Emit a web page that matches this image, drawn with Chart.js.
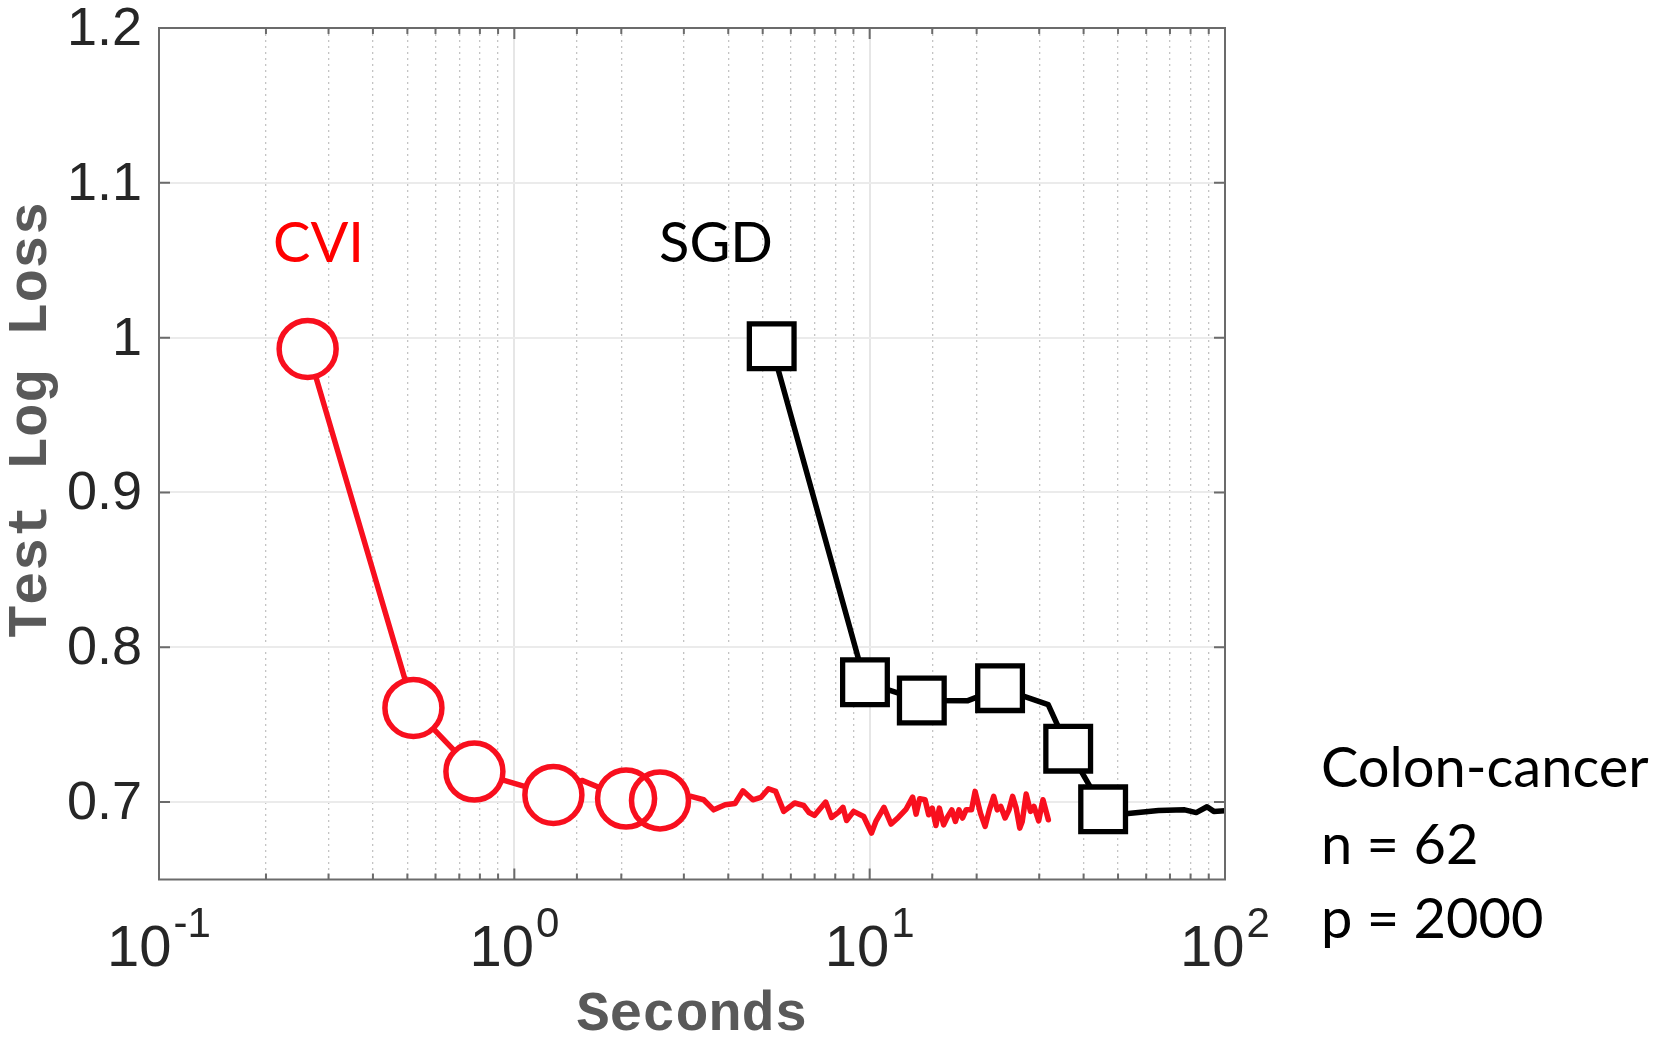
<!DOCTYPE html>
<html lang="en">
<head>
<meta charset="UTF-8">
<title>Colon-cancer: Test Log Loss vs Seconds</title>
<script src="https://cdn.jsdelivr.net/npm/chart.js"></script>
<style>
  html, body { margin: 0; padding: 0; background: #fff; }
  #wrap { position: relative; width: 1676px; height: 1041px; }
</style>
</head>
<body>
<div id="wrap"><canvas id="lossChart" width="1676" height="1041"></canvas></div>
<script>
// CVI: circle markers and the full curve (seconds / test log loss)
const cviMarkSec  = [0.262, 0.52, 0.772, 1.288, 2.063, 2.57];
const cviMarkLoss = [0.9927, 0.7608, 0.7197, 0.7046, 0.7023, 0.7011];
const cviSec = [0.262, 0.52, 0.772, 1.288, 1.55, 2.063, 2.57,
  3.145, 3.41, 3.64, 3.92, 4.18, 4.40, 4.69, 4.94, 5.19, 5.44, 5.73, 6.15, 6.52, 6.75, 6.99,
  7.52, 7.81, 8.18, 8.41, 8.61, 9.01, 9.62, 10.12, 10.43, 10.97, 11.49, 12.04, 12.67, 13.21,
  13.51, 13.83, 14.32, 14.66, 15.00, 15.36, 15.71, 16.15, 16.53, 17.03, 17.43, 17.84, 18.26,
  18.68, 19.35, 19.80, 20.50, 21.13, 21.72, 22.34, 22.86, 23.39, 24.05, 24.67, 25.25, 25.84,
  26.45, 26.88, 27.57, 28.35, 29.00, 29.90, 30.74, 31.83];
const cviLoss = [0.9927, 0.7608, 0.7197, 0.7046, 0.714, 0.7023, 0.7011,
  0.7037, 0.7015, 0.6950, 0.6983, 0.6991, 0.7073, 0.7015, 0.7030, 0.7086, 0.7069, 0.6940, 0.6994, 0.6978, 0.6933, 0.6914,
  0.7000, 0.6901, 0.6935, 0.6966, 0.6881, 0.6940, 0.6907, 0.6800, 0.6879, 0.6966, 0.6858, 0.6901, 0.6955, 0.7032,
  0.6922, 0.7022, 0.7015, 0.6918, 0.6961, 0.6849, 0.6961, 0.6853, 0.6901, 0.6950, 0.6875, 0.6950, 0.6897,
  0.6950, 0.6950, 0.7069, 0.6929, 0.6843, 0.6950, 0.7037, 0.6950, 0.6972, 0.6897, 0.6950, 0.7037, 0.6961,
  0.6832, 0.6875, 0.7052, 0.6940, 0.6972, 0.6879, 0.7015, 0.6886];

// SGD: square markers and the full curve
const sgdMarkSec  = [5.30, 9.70, 14.02, 23.28, 36.2, 45.4];
const sgdMarkLoss = [0.9944, 0.7774, 0.7656, 0.7736, 0.7345, 0.6953];
const sgdSec  = [5.30, 9.70, 14.02, 18.9, 23.28, 31.8, 36.2, 45.4, 50, 65, 77, 83, 89, 93, 100];
const sgdLoss = [0.9944, 0.7774, 0.7656, 0.7655, 0.7736, 0.763, 0.7345, 0.6953, 0.692, 0.6945, 0.695, 0.6932, 0.697, 0.694, 0.6944];

// axis ticks
const yTickValues = [0.7, 0.8, 0.9, 1.0, 1.1, 1.2];
const yTickLabels = ['0.7', '0.8', '0.9', '1', '1.1', '1.2'];
const xTickValues = [0.1, 1, 10, 100];
const xTickExps   = ['-1', '0', '1', '2'];

// text beside the plot
const seriesNames = ['CVI', 'SGD'];
const noteLines   = ['Colon-cancer', 'n = 62', 'p = 2000'];

const RED = '#f80f1e';
const SANS = '"Liberation Sans", Arial, sans-serif';
const MONO = '"Liberation Mono", "Courier New", monospace';
const toPts = (xs, ys) => xs.map((x, i) => ({ x: x, y: ys[i] }));
const isDecade = v => { const l = Math.log10(v); return Math.abs(l - Math.round(l)) < 1e-6; };

// box, inward tick marks, tick labels and the text labels
const framePlugin = {
  id: 'frame',
  afterDraw(chart) {
    const { ctx, chartArea: a } = chart;
    const xs = chart.scales.x, ys = chart.scales.y;
    ctx.save();
    ctx.strokeStyle = '#6b6b6b';
    ctx.lineWidth = 2;
    ctx.strokeRect(a.left, a.top, a.right - a.left, a.bottom - a.top);
    ctx.beginPath();
    xs.ticks.forEach(t => {
      const px = xs.getPixelForValue(t.value);
      const len = isDecade(t.value) ? 11 : 6;
      ctx.moveTo(px, a.bottom); ctx.lineTo(px, a.bottom - len);
      ctx.moveTo(px, a.top); ctx.lineTo(px, a.top + len);
    });
    ys.ticks.forEach(t => {
      const py = ys.getPixelForValue(t.value);
      ctx.moveTo(a.left, py); ctx.lineTo(a.left + 11, py);
      ctx.moveTo(a.right, py); ctx.lineTo(a.right - 11, py);
    });
    ctx.stroke();

    ctx.fillStyle = '#262626';

    // y tick labels
    ctx.font = '54px ' + SANS;
    ctx.textAlign = 'right';
    ctx.textBaseline = 'middle';
    yTickValues.forEach((v, i) => {
      ctx.fillText(yTickLabels[i], a.left - 17, ys.getPixelForValue(v) + 2);
    });

    // x tick labels as 10 with raised exponent
    ctx.textBaseline = 'alphabetic';
    ctx.textAlign = 'left';
    xTickValues.forEach((v, i) => {
      const px = xs.getPixelForValue(v);
      ctx.font = '58px ' + SANS;
      const wb = ctx.measureText('10').width;
      ctx.font = '42px ' + SANS;
      const we = ctx.measureText(xTickExps[i]).width;
      const x0 = px - (wb + 2 + we) / 2;
      ctx.font = '58px ' + SANS;
      ctx.fillText('10', x0, 966);
      ctx.font = '42px ' + SANS;
      ctx.fillText(xTickExps[i], x0 + wb + 2, 937);
    });

    // series names inside the plot
    ctx.font = '56px Lato, "Open Sans", sans-serif';
    ctx.fillStyle = '#ff0000';
    ctx.fillText(seriesNames[0], 273, 262);
    ctx.fillStyle = '#000000';
    ctx.fillText(seriesNames[1], 659, 262);

    // dataset note on the right
    const baselines = [787, 864, 938];
    noteLines.forEach((s, i) => ctx.fillText(s, 1321, baselines[i]));
    ctx.restore();
  }
};

const markerCommon = { showLine: false, borderWidth: 0 };

new Chart(document.getElementById('lossChart'), {
  type: 'line',
  data: {
    datasets: [
      // outlines (drawn last = on top)
      Object.assign({ label: 'CVI', data: toPts(cviMarkSec, cviMarkLoss), pointStyle: 'circle',
        pointRadius: 28.5, pointBorderWidth: 5.5, pointBorderColor: RED,
        pointBackgroundColor: 'rgba(0,0,0,0)' }, markerCommon),
      Object.assign({ label: 'SGD', data: toPts(sgdMarkSec, sgdMarkLoss), pointStyle: 'rect',
        pointRadius: 31.6, pointBorderWidth: 5.3, pointBorderColor: '#000',
        pointBackgroundColor: 'rgba(0,0,0,0)' }, markerCommon),
      // white marker faces
      Object.assign({ label: 'CVI face', data: toPts(cviMarkSec, cviMarkLoss), pointStyle: 'circle',
        pointRadius: 28.5, pointBorderWidth: 0, pointBackgroundColor: '#fff' }, markerCommon),
      Object.assign({ label: 'SGD face', data: toPts(sgdMarkSec, sgdMarkLoss), pointStyle: 'rect',
        pointRadius: 31.6, pointBorderWidth: 0, pointBackgroundColor: '#fff' }, markerCommon),
      // curves
      { label: 'CVI curve', data: toPts(cviSec, cviLoss), borderColor: RED, borderWidth: 5.5,
        pointRadius: 0, tension: 0, borderJoinStyle: 'round', borderCapStyle: 'round' },
      { label: 'SGD curve', data: toPts(sgdSec, sgdLoss), borderColor: '#000', borderWidth: 5.5,
        pointRadius: 0, tension: 0, borderJoinStyle: 'round', borderCapStyle: 'round' }
    ]
  },
  options: {
    responsive: false,
    animation: false,
    events: [],
    layout: { autoPadding: false, padding: { left: 0, right: 451, top: 28, bottom: 0 } },
    plugins: { legend: { display: false }, tooltip: { enabled: false } },
    scales: {
      x: {
        type: 'logarithmic',
        min: 0.1,
        max: 100,
        ticks: { display: false },
        grid: {
          drawTicks: false,
          color: c => (c.tick && isDecade(c.tick.value)) ? '#e6e6e6' : '#c4c4c4',
          lineWidth: c => (c.tick && isDecade(c.tick.value)) ? 2 : 1.3,
          borderDash: c => (c.tick && !isDecade(c.tick.value)) ? [2, 4] : []
        },
        border: { display: false, dash: c => (c.tick && !isDecade(c.tick.value)) ? [2, 4] : [] },
        title: {
          display: true,
          text: 'Seconds',
          color: '#595959',
          font: { family: MONO, size: 55, weight: 'bold', lineHeight: 0.9 },
          padding: { top: 112, bottom: 0 }
        }
      },
      y: {
        min: 0.65,
        max: 1.2,
        afterBuildTicks: axis => { axis.ticks = yTickValues.map(v => ({ value: v })); },
        ticks: { display: false },
        grid: { drawTicks: false, color: '#ebebeb', lineWidth: 2 },
        border: { display: false },
        title: {
          display: true,
          text: '  Test Log Loss',
          color: '#595959',
          font: { family: MONO, size: 56, weight: 'bold', lineHeight: 1 },
          padding: { top: 4, bottom: 99 }
        }
      }
    }
  },
  plugins: [framePlugin]
});
</script>
</body>
</html>
